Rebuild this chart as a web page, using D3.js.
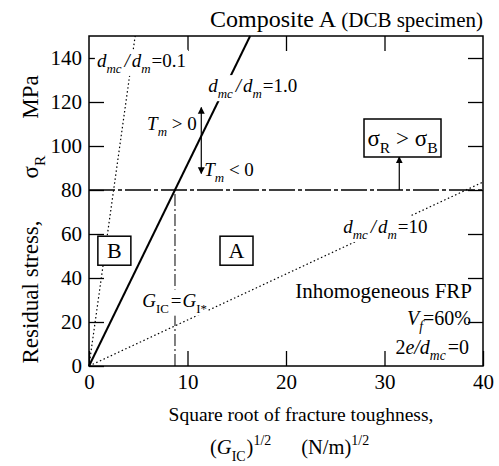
<!DOCTYPE html>
<html>
<head>
<meta charset="utf-8">
<script src="https://cdn.jsdelivr.net/npm/d3@7"></script>
<style>
  body { margin: 0; background: #fff; }
  svg { display: block; font-family: "Liberation Serif", "DejaVu Serif", serif; }
</style>
</head>
<body>
<script>
// values
var xTicks = [0, 10, 20, 30, 40];
var yTicks = [0, 20, 40, 60, 80, 100, 120, 140];
var ratioLabels = ["0.1", "1.0", "10"];
var ratioSlopes = [32, 9.17, 2.09];   // sigma_R per unit of sqrt(G_IC)
var sigmaB = 80;                       // MPa
var gCrit = 8.73;                      // sqrt(G_I*)

var W = 499, H = 466;
var svg = d3.select("body").append("svg").attr("width", W).attr("height", H);

var x = d3.scaleLinear().domain([0, 40]).range([89, 483]);
var y = d3.scaleLinear().domain([0, 150]).range([366, 36]);

// rich text helper: parts = [[text, flags, dx]] flags: i italic, b sub, p sup
function rich(g, px, py, parts, size, anchor) {
  var t = g.append("text").attr("x", px).attr("y", py)
    .attr("font-size", size).attr("text-anchor", anchor || "start");
  var shift = 0;
  parts.forEach(function(p) {
    var f = p[1] || "";
    var target = f.indexOf("b") >= 0 ? size * 0.32 : f.indexOf("p") >= 0 ? -size * 0.42 : 0;
    var ts = t.append("tspan").text(p[0]).attr("dy", target - shift);
    if (p[2]) ts.attr("dx", p[2]);
    shift = target;
    if (f.indexOf("i") >= 0) ts.attr("font-style", "italic");
    if (f.indexOf("b") >= 0 || f.indexOf("p") >= 0) ts.attr("font-size", size * 0.68);
  });
  return t;
}
function whiteBack(t, pad) {
  var b = t.node().getBBox();
  d3.select(t.node().parentNode).insert("rect", function() { return t.node(); })
    .attr("x", b.x - pad).attr("y", b.y).attr("width", b.width + 2 * pad).attr("height", b.height)
    .attr("fill", "white");
}
function plain(g) {
  g.select(".domain").remove();
  g.attr("font-family", "Liberation Serif").attr("font-size", 21);
  g.selectAll("text").attr("font-family", "Liberation Serif").attr("fill", "black");
}

// axes with inward ticks on all four sides
svg.append("g").attr("transform", "translate(0," + y(0) + ")")
  .call(d3.axisBottom(x).tickValues(xTicks).tickSize(-15).tickPadding(8))
  .call(plain);
svg.append("g").attr("transform", "translate(" + x(0) + ",0)")
  .call(d3.axisLeft(y).tickValues(yTicks).tickSize(-15).tickPadding(7))
  .call(plain);
svg.append("g").attr("transform", "translate(0," + y(150) + ")")
  .call(d3.axisTop(x).tickValues(xTicks.slice(1, -1)).tickSize(-15).tickFormat(""))
  .call(plain);
svg.append("g").attr("transform", "translate(" + x(40) + ",0)")
  .call(d3.axisRight(y).tickValues(yTicks.slice(1)).tickSize(-15).tickFormat(""))
  .call(plain);
svg.selectAll(".tick line").attr("stroke-width", 1.3);

var plot = svg.append("g");

// sigma_B level and G_I* line
plot.append("line")
  .attr("x1", x(0)).attr("x2", x(40)).attr("y1", y(sigmaB)).attr("y2", y(sigmaB))
  .attr("stroke", "black").attr("stroke-width", 1.5).attr("stroke-dasharray", "26,3,4,3");
plot.append("line")
  .attr("x1", x(gCrit)).attr("x2", x(gCrit)).attr("y1", y(0)).attr("y2", y(sigmaB))
  .attr("stroke", "black").attr("stroke-width", 1).attr("stroke-dasharray", "12,3,2,3");

// d_mc/d_m lines
ratioSlopes.forEach(function(s, i) {
  var xe = Math.min(40, 150 / s);
  plot.append("line")
    .attr("x1", x(0)).attr("y1", y(0)).attr("x2", x(xe)).attr("y2", y(s * xe))
    .attr("stroke", "black")
    .attr("stroke-width", ratioLabels[i] === "1.0" ? 2 : 1.2)
    .attr("stroke-dasharray", ratioLabels[i] === "1.0" ? null : "1.5,2.5");
});

// frame
svg.append("rect").attr("x", x(0)).attr("y", y(150))
  .attr("width", x(40) - x(0)).attr("height", y(0) - y(150))
  .attr("fill", "none").attr("stroke", "black").attr("stroke-width", 1.5);

var ann = svg.append("g");
function ratioLabel(px, py, val) {
  var t = rich(ann, px, py, [["d", "i"], ["mc", "ib"], ["/", "i", 3], ["d", "i", 2], ["m", "ib"], ["=" + val, "", 1]], 19);
  whiteBack(t, 2);
}
ratioLabel(x(0.8), y(136), ratioLabels[0]);
ratioLabel(x(12.1), y(124.5), ratioLabels[1]);
ratioLabel(x(25.8), y(60.5), ratioLabels[2]);

var gl = rich(ann, x(5.4), y(27), [["G", "i"], ["IC", "b"], ["=", "", 2], ["G", "i", 1], ["I*", "b"]], 19);
whiteBack(gl, 1);

rich(ann, x(5.9), y(107.5), [["T", "i"], ["m", "ib"], [" > 0", ""]], 19);
rich(ann, x(11.7), y(86.5), [["T", "i"], ["m", "ib"], [" < 0", ""]], 19);

// arrows
var defs = svg.append("defs");
defs.append("marker").attr("id", "ah").attr("viewBox", "0 0 10 10")
  .attr("refX", 9).attr("refY", 5).attr("markerWidth", 7).attr("markerHeight", 9)
  .attr("markerUnits", "userSpaceOnUse").attr("orient", "auto-start-reverse")
  .append("path").attr("d", "M0,0L10,5L0,10z").attr("fill", "black");
ann.append("line").attr("x1", x(11.4)).attr("x2", x(11.4)).attr("y1", y(117.5)).attr("y2", y(87.5))
  .attr("stroke", "black").attr("stroke-width", 1.2)
  .attr("marker-start", "url(#ah)").attr("marker-end", "url(#ah)");
ann.append("line").attr("x1", x(31.5)).attr("x2", x(31.5)).attr("y1", y(sigmaB)).attr("y2", y(95))
  .attr("stroke", "black").attr("stroke-width", 1.2).attr("marker-end", "url(#ah)");

// boxed labels
function boxed(px, py, w, h, parts, size) {
  ann.append("rect").attr("x", px).attr("y", py).attr("width", w).attr("height", h)
    .attr("fill", "white").attr("stroke", "black").attr("stroke-width", 1.5);
  rich(ann, px + w / 2, py + h / 2 + size * 0.35, parts, size, "middle");
}
boxed(364, 119, 77, 38, [["σ", ""], ["R", "b"], [" > ", ""], ["σ", ""], ["B", "b"]], 23);
boxed(x(0.9), y(59), 33, 29, [["B", ""]], 22);
boxed(x(13.3), y(59), 33, 29, [["A", ""]], 22);

// right-hand notes
ann.append("text").attr("x", 472).attr("y", 298).attr("text-anchor", "end")
  .attr("font-size", 21).text("Inhomogeneous FRP");
rich(ann, 471, 325, [["V", "i"], ["f", "ib"], ["=60%", ""]], 20, "end");
rich(ann, 469, 354, [["2", ""], ["e", "i"], ["/", "i"], ["d", "i"], ["mc", "ib"], ["=0", "", 2]], 20, "end");

// title
rich(svg, 483, 27, [["Composite A", ""], [" (DCB specimen)", "", 0]], 24, "end")
  .select("tspan:last-child").attr("font-size", 21);

// axis titles
svg.append("text").attr("x", 301).attr("y", 421).attr("text-anchor", "middle")
  .attr("font-size", 19.5).text("Square root of fracture toughness,");
rich(svg, 210, 454, [["(", ""], ["G", "i"], ["IC", "b"], [")", "", 1], ["1/2", "p"], ["(N/m)", "", 30], ["1/2", "p"]], 20.5);

var yl = svg.append("g").attr("transform", "translate(38,0) rotate(-90)");
yl.append("text").attr("x", -292).attr("y", 0).attr("text-anchor", "middle")
  .attr("font-size", 23).text("Residual stress,");
rich(yl, -167, 0, [["σ", ""], ["R", "b"]], 23, "middle");
yl.append("text").attr("x", -97).attr("y", 0).attr("text-anchor", "middle")
  .attr("font-size", 23).text("MPa");
</script>
</body>
</html>
